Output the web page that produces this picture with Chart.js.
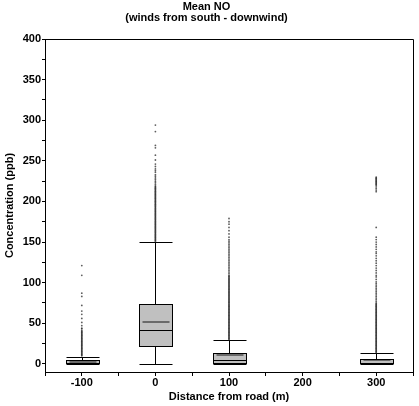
<!DOCTYPE html>
<html>
<head>
<meta charset="utf-8">
<script src="https://cdn.jsdelivr.net/npm/chart.js@4.4.1/dist/chart.umd.min.js"></script>
<style>
  html, body { margin: 0; padding: 0; background: #fff; }
  #wrap { width: 419px; height: 406px; }
</style>
</head>
<body>
<div id="wrap"><canvas id="c" width="419" height="406"></canvas></div>
<script>
// ---- data ----
const categories = [-100, 0, 100, 300];
const whiskerLow  = [0, 0, 0, 0];
const q1          = [0.9, 21.8, 0.8, 0.9];
const median      = [0.9, 41.6, 4.9, 1.0];
const mean        = [2.6, 51.9, 10.7, 4.5];
const q3          = [4.4, 73.7, 13.2, 5.8];
const whiskerHigh = [9, 150.6, 29.6, 13.2];

const outliersNeg100 = [121, 109, 87, 83, 72, 65, 61, 56, 51, 47, 44, 43, 41, 40, 39, 38, 37, 36, 35, 34, 33, 32, 31, 30, 29, 28, 27, 26, 25, 24, 23, 22, 21, 20, 19, 18, 17, 16, 15, 14, 13, 12, 11, 10];
const outlier0 = [294, 286, 269, 266, 257, 251, 246, 243, 240, 238, 236, 233, 231, 229, 227, 225, 223, 221, 219, 218, 217, 216, 215, 214, 213, 212, 211, 210, 209, 208, 207, 206, 205, 204, 203, 202, 201, 200, 199, 198, 197, 196, 195, 194, 193, 192, 191, 190, 189, 188, 187, 186, 185, 184, 183, 182, 181, 180, 179, 178, 177, 176, 175, 174, 173, 172, 171, 170, 169, 168, 167, 166, 165, 164, 163, 162, 161, 160, 159, 158, 157, 156, 155, 154, 153, 152, 151];
const outliers100 = [179, 175, 172, 168, 164, 160, 156, 153, 151, 149, 147, 145, 143, 141, 139, 137, 135, 133, 131, 129, 127, 125, 123, 121, 119, 117, 115, 113, 111, 109, 108, 107, 106, 105, 104, 103, 102, 101, 100, 99, 98, 97, 96, 95, 94, 93, 92, 91, 90, 89, 88, 87, 86, 85, 84, 83, 82, 81, 80, 79, 78, 77, 76, 75, 74, 73, 72, 71, 70, 69, 68, 67, 66, 65, 64, 63, 62, 61, 60, 59, 58, 57, 56, 55, 54, 53, 52, 51, 50, 49, 48, 47, 46, 45, 44, 43, 42, 41, 40, 39, 38, 37, 36, 35, 34, 33, 32, 31, 30];
const outliers300 = [230, 229, 228, 227, 226, 225, 224, 223, 222, 221, 220, 218, 216, 214, 212, 168, 156, 153, 150, 147, 144, 141, 138, 136, 133, 130, 127, 124, 121, 118, 115, 112, 109, 107, 104, 101, 99, 97, 95, 93, 91, 89, 87, 85, 83, 81, 79, 77, 75, 74, 73, 72, 71, 70, 69, 68, 67, 66, 65, 64, 63, 62, 61, 60, 59, 58, 57, 56, 55, 54, 53, 52, 51, 50, 49, 48, 47, 46, 45, 44, 43, 42, 41, 40, 39, 38, 37, 36, 35, 34, 33, 32, 31, 30, 29, 28, 27, 26, 25, 24, 23, 22, 21, 20, 19, 18, 17, 16, 15, 14];
const outlierLists = [outliersNeg100, outlier0, outliers100, outliers300];

const titleLines = ['Mean NO', '(winds from south - downwind)'];
const xTitle = 'Distance from road (m)';
const yTitle = 'Concentration (ppb)';

// ---- styles ----
const FONT = '"Liberation Sans", Arial, sans-serif';
const BOX_W = 33;

Chart.defaults.font.family = FONT;
Chart.defaults.color = '#000';

const boxPlugin = {
  id: 'boxes',
  beforeDatasetsDraw(chart) {
    const ctx = chart.ctx;
    const xs = chart.scales.x, ys = chart.scales.y;
    const snap = v => Math.round(v) + 0.5;
    ctx.save();
    for (let i = 0; i < categories.length; i++) {
      const cx = snap(xs.getPixelForValue(categories[i]));
      const l = Math.round(cx - BOX_W / 2) + 0.5, r = l + BOX_W;
      const yLo = snap(ys.getPixelForValue(whiskerLow[i]));
      const yQ1 = snap(ys.getPixelForValue(q1[i]));
      const yMed = snap(ys.getPixelForValue(median[i]));
      const yMean = ys.getPixelForValue(mean[i]);
      const yQ3 = snap(ys.getPixelForValue(q3[i]));
      const yHi = snap(ys.getPixelForValue(whiskerHigh[i]));
      ctx.strokeStyle = '#000';
      ctx.lineWidth = 1;
      ctx.beginPath();
      ctx.moveTo(cx, yQ3); ctx.lineTo(cx, yHi);
      ctx.moveTo(l, yHi); ctx.lineTo(r, yHi);
      ctx.moveTo(cx, yQ1); ctx.lineTo(cx, yLo);
      ctx.moveTo(l, yLo); ctx.lineTo(r, yLo);
      ctx.stroke();
      ctx.fillStyle = '#c0c0c0';
      ctx.fillRect(l, yQ3, r - l, yQ1 - yQ3);
      ctx.strokeStyle = '#6a6a6a';
      ctx.lineWidth = 2;
      ctx.beginPath();
      ctx.moveTo(l + 3, Math.round(yMean)); ctx.lineTo(r - 3, Math.round(yMean));
      ctx.stroke();
      ctx.strokeStyle = '#000';
      ctx.lineWidth = 1;
      ctx.strokeRect(l, yQ3, r - l, yQ1 - yQ3);
      ctx.beginPath();
      ctx.moveTo(l, yMed); ctx.lineTo(r, yMed);
      ctx.stroke();
    }
    ctx.restore();
  },
  afterDraw(chart) {
    const {ctx, chartArea: a} = chart;
    ctx.save();
    ctx.strokeStyle = '#000';
    ctx.lineWidth = 1;
    ctx.beginPath();
    ctx.moveTo(Math.round(a.left), Math.round(a.top) + 0.5);
    ctx.lineTo(Math.round(a.right) + 0.5, Math.round(a.top) + 0.5);
    ctx.lineTo(Math.round(a.right) + 0.5, Math.round(a.bottom));
    ctx.stroke();
    ctx.restore();
  }
};

const datasets = outlierLists.map((list, i) => ({
  label: 'outliers ' + categories[i],
  data: list.map(v => ({x: categories[i], y: v})),
  pointRadius: 0.9,
  pointHoverRadius: 0.9,
  pointBackgroundColor: 'rgba(40,40,40,0.75)',
  pointBorderWidth: 0,
  showLine: false
}));

new Chart(document.getElementById('c'), {
  type: 'scatter',
  data: { datasets },
  plugins: [boxPlugin],
  options: {
    responsive: false,
    animation: false,
    events: [],
    layout: { padding: { left: 0, right: 6, top: 0, bottom: 0 } },
    plugins: {
      legend: { display: false },
      tooltip: { enabled: false },
      title: {
        display: true,
        text: titleLines,
        color: '#000',
        font: { size: 11, weight: 'bold', lineHeight: 1.0 },
        padding: { top: 1, bottom: 16 }
      }
    },
    scales: {
      x: {
        type: 'linear',
        min: -150, max: 350,
        afterFit(s) { s.height = 34; },
        border: { display: true, color: '#000', width: 1 },
        grid: { drawOnChartArea: false, drawTicks: true, tickLength: 4, color: '#000' },
        ticks: {
          stepSize: 50,
          includeBounds: false,
          autoSkip: false,
          maxRotation: 0,
          padding: 0,
          color: '#000',
          font: { size: 11, weight: 'bold' },
          callback: v => (v % 100 === 0 ? String(v) : '')
        },
        title: {
          display: true, text: xTitle, color: '#000',
          font: { size: 11, weight: 'bold' },
          padding: { top: 0, bottom: 2 }
        }
      },
      y: {
        type: 'linear',
        min: -10, max: 400,
        afterFit(s) { s.width = 45; },
        border: { display: true, color: '#000', width: 1 },
        grid: { drawOnChartArea: false, drawTicks: true, tickLength: 3, color: '#000' },
        ticks: {
          stepSize: 25,
          includeBounds: false,
          autoSkip: false,
          padding: 1,
          color: '#000',
          font: { size: 11, weight: 'bold' },
          callback: v => (v % 50 === 0 ? String(v) : '')
        },
        title: {
          display: true, text: yTitle, color: '#000',
          font: { size: 11, weight: 'bold' },
          padding: { top: 3, bottom: 0 }
        }
      }
    }
  }
});
</script>
</body>
</html>
